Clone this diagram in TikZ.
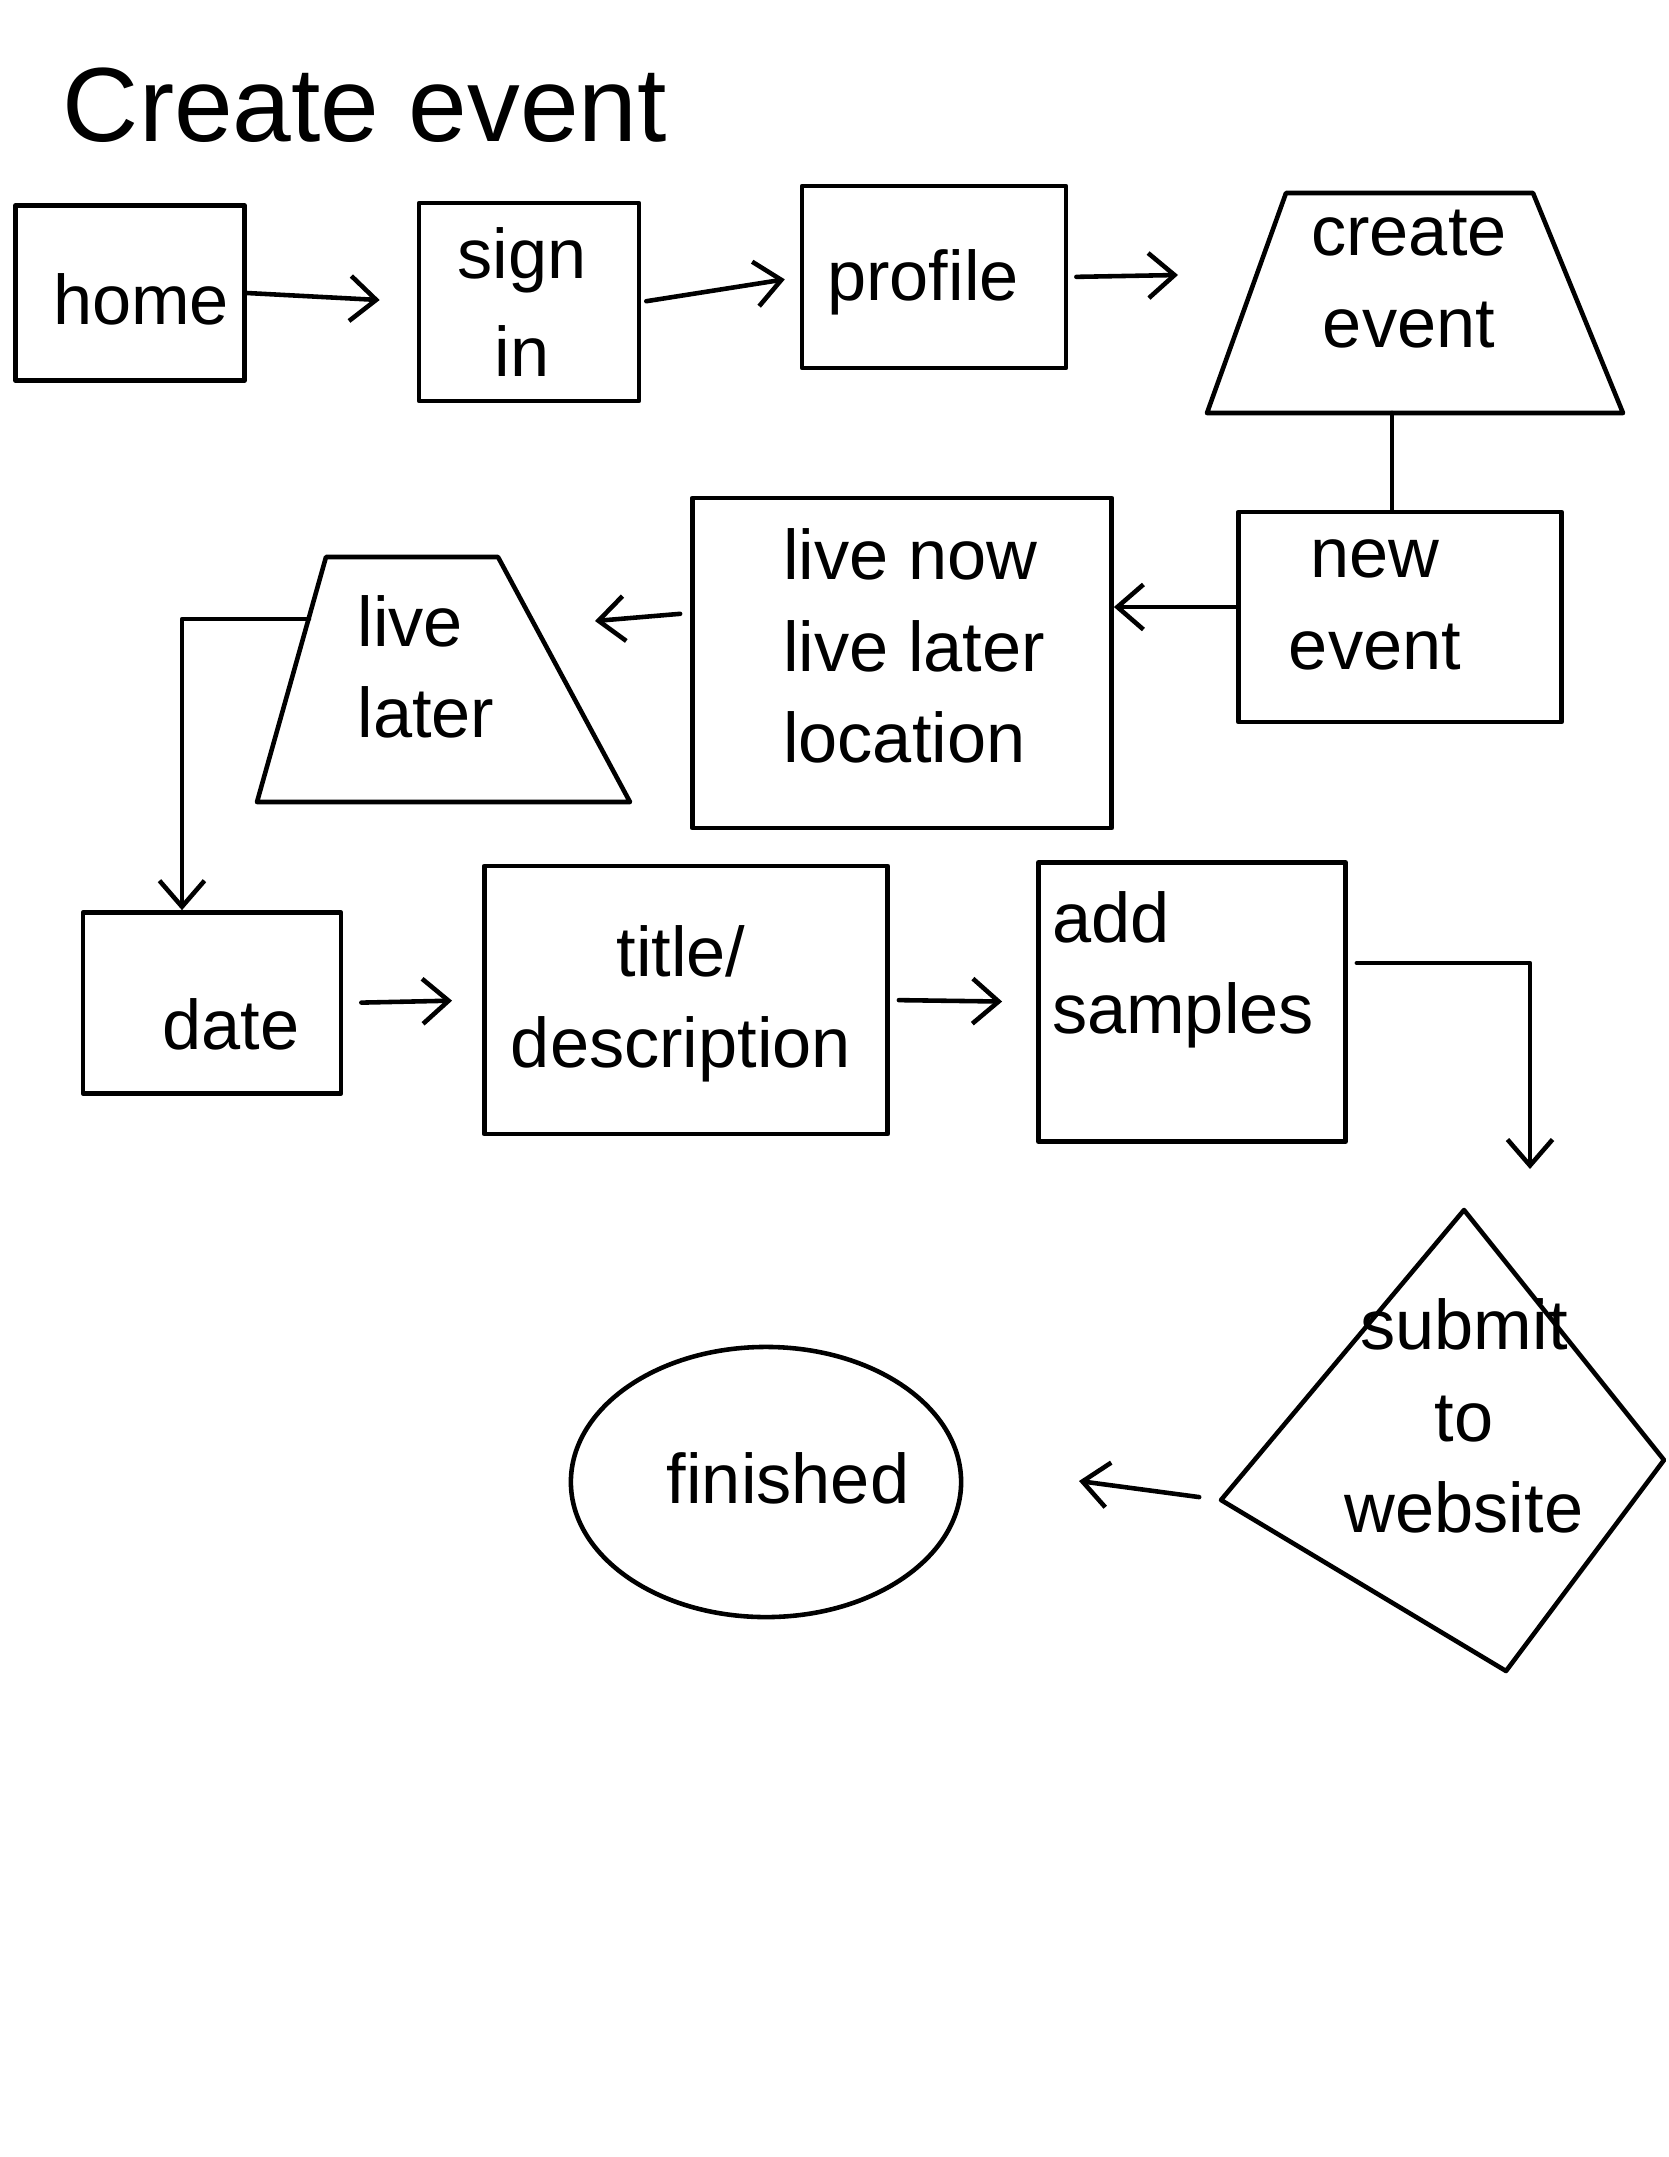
\documentclass[tikz,border=0pt]{standalone}
\usepackage{fontspec}
\setmainfont{Liberation Sans}
\usetikzlibrary{shapes.geometric,arrows.meta,calc}
\begin{document}
\begin{tikzpicture}[x=0.01cm,y=-0.01cm,
  line width=1.3pt, line cap=round, line join=round,
  >={Straight Barb[length=2.6mm,width=4.5mm]},
  box/.style={draw, rectangle, inner sep=0pt},
  lbl/.style={font=\fontsize{20}{26}\selectfont, align=center, inner sep=0pt},
]
\fill[white] (0,0) rectangle (1668,2157);
\useasboundingbox (0,0) rectangle (1668,2157);

% title
\node[lbl, font=\fontsize{30}{34}\selectfont] (heading) at (365,105) {Create event};

% rectangle / ellipse shapes
\node[box, minimum width=2.29cm, minimum height=1.75cm] (home) at (130,293) {};
\node[box, minimum width=2.20cm, minimum height=1.98cm] (signin) at (529,302) {};
\node[box, minimum width=2.64cm, minimum height=1.82cm] (profile) at (934,277) {};
\node[box, minimum width=3.23cm, minimum height=2.10cm] (newevent) at (1400,617) {};
\node[box, minimum width=4.19cm, minimum height=3.30cm] (livenow) at (902,663) {};
\node[box, minimum width=2.58cm, minimum height=1.81cm] (date) at (212,1003) {};
\node[box, minimum width=4.03cm, minimum height=2.68cm] (titledesc) at (686,1000) {};
\node[box, minimum width=3.07cm, minimum height=2.79cm] (addsamples) at (1192,1002) {};
\node[draw, ellipse, minimum width=3.9cm, minimum height=2.7cm, inner sep=0pt] (finished) at (766,1482) {};

% polygon shapes
\coordinate (ceTL) at (1286,193); \coordinate (ceTR) at (1533,193);
\coordinate (ceBR) at (1623,413); \coordinate (ceBL) at (1207,413);
\draw (ceTL) -- (ceTR) -- (ceBR) -- (ceBL) -- cycle;
\coordinate (ceS) at (1392,413);
\coordinate (ceW) at (1178,275);

\coordinate (llTL) at (326,557); \coordinate (llTR) at (498,557);
\coordinate (llBR) at (630,802); \coordinate (llBL) at (257,802);
\draw (llTL) -- (llTR) -- (llBR) -- (llBL) -- cycle;
\coordinate (llW) at (309,619);
\coordinate (llE) at (595,621);

\coordinate (smT) at (1464,1210); \coordinate (smR) at (1664,1460);
\coordinate (smB) at (1506,1671); \coordinate (smL) at (1221,1500);
\draw (smT) -- (smR) -- (smB) -- (smL) -- cycle;

% labels
\node[lbl] (thome) at (141,299) {home};
\node[lbl, font=\fontsize{20}{28}\selectfont] (tsignin) at (522,302) {sign\\in};
\node[lbl] (tprofile) at (923,282) {profile};
\node[lbl] (tcreate) at (1409,279) {create\\event};
\node[lbl] (tnew) at (1375,605) {new\\event};
\node[lbl, align=left] (tlivenow) at (914,646) {live now\\live later\\location};
\node[lbl, align=left] (tlivelater) at (426,667) {live\\later};
\node[lbl] (tdate) at (231,1024) {date};
\node[lbl] (ttitle) at (681,1004) {title/\\description};
\node[lbl, align=left] (tadd) at (1183,970) {add\\samples};
\node[lbl] (tsubmit) at (1464,1416) {submit\\to\\website};
\node[lbl] (tfinished) at (788,1478) {finished};

% connectors
\coordinate (a2s) at (1530,1169);
\coordinate (s2f) at (1079,1481);
\draw[->, shorten >=0.37cm] (home.east) -- (signin.west);
\draw[->, shorten >=0.15cm, shorten <=0.05cm] (signin.east) -- (profile.west);
\draw[->, shorten <=0.08cm] (profile.east) -- (ceW);
\draw (ceS) -- (ceS |- newevent.north);
\draw[->] ([yshift=0.1cm]newevent.west) -- ([yshift=0.1cm]newevent.west -| livenow.east);
\draw[->, shorten <=0.1cm] ([yshift=0.5cm]livenow.west) -- (llE);
\draw[->] (llW) -- ++(-116,0) -| ([xshift=-0.3cm]date.north);
\draw[->, shorten >=0.3cm, shorten <=0.18cm] (date.east) -- (titledesc.west);
\draw[->, shorten >=0.34cm, shorten <=0.09cm] (titledesc.east) -- (addsamples.west);
\draw[->, shorten <=0.09cm] ([yshift=0.39cm]addsamples.east) -| (a2s);
\draw[->, shorten <=0.22cm] (smL) -- (s2f);
\end{tikzpicture}
\end{document}
